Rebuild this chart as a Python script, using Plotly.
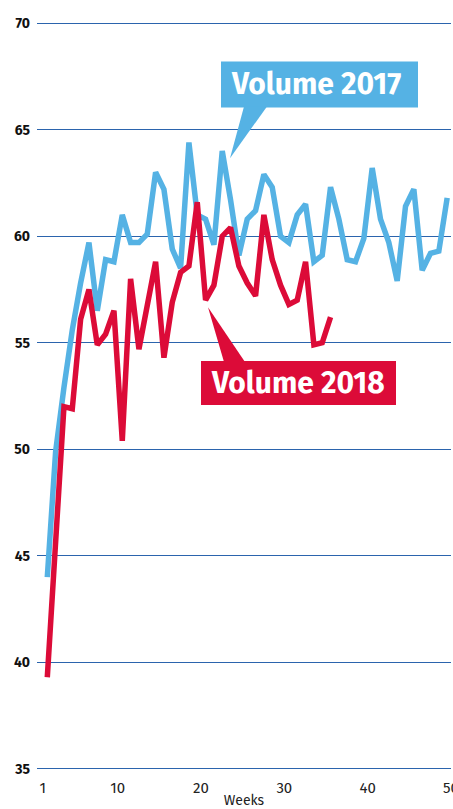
import plotly.graph_objects as go

# ---- data ----
weeks_2017 = list(range(1, 50))
volume_2017 = [44.0, 49.9, 52.9, 55.6, 57.8, 59.7, 56.5, 58.9, 58.8, 61.0,
               59.7, 59.7, 60.1, 63.0, 62.2, 59.4, 58.5, 64.4, 61.0, 60.8,
               59.6, 64.0, 61.7, 59.1, 60.8, 61.2, 62.9, 62.3, 60.0, 59.7,
               61.0, 61.5, 58.8, 59.1, 62.3, 60.8, 58.9, 58.8, 59.9, 63.2,
               60.8, 59.7, 57.9, 61.4, 62.2, 58.4, 59.2, 59.3, 61.8]
weeks_2018 = list(range(1, 36))
volume_2018 = [39.3, 45.6, 52.0, 51.9, 56.1, 57.5, 54.9, 55.4, 56.5, 50.4,
               58.0, 54.7, 56.8, 58.8, 54.3, 56.9, 58.3, 58.6, 61.6, 57.0,
               57.7, 60.0, 60.4, 58.6, 57.8, 57.2, 61.0, 58.9, 57.7, 56.8,
               57.0, 58.8, 54.9, 55.0, 56.2]
x_tick_labels = ["1", "10", "20", "30", "40", "50"]
y_ticks = [35, 40, 45, 50, 55, 60, 65, 70]
label_2017 = "Volume 2017"
label_2018 = "Volume 2018"

BLUE = "#55b2e4"
RED = "#dc0b38"
GRID = "#2b64ad"
FONT = "Fira Sans, Roboto, Open Sans, sans-serif"

W, H = 453, 809
ML, MR, MT, MB = 37, 2, 20.5, 37.6
X_RANGE = [-0.236, 49.46]
Y_RANGE = [34.9, 70.1]
TICK_OFFSET = 0.55

pw = W - ML - MR
ph = H - MT - MB


def px2x(px):
    return X_RANGE[0] + (px - ML) / pw * (X_RANGE[1] - X_RANGE[0])


def py2y(py):
    return Y_RANGE[1] - (py - MT) / ph * (Y_RANGE[1] - Y_RANGE[0])


fig = go.Figure()
fig.add_trace(go.Scatter(x=weeks_2017, y=volume_2017, mode="lines",
                         line=dict(color=BLUE, width=5.5), name=label_2017,
                         showlegend=False, hoverinfo="skip"))
fig.add_trace(go.Scatter(x=weeks_2018, y=volume_2018, mode="lines",
                         line=dict(color=RED, width=5.5), name=label_2018,
                         showlegend=False, hoverinfo="skip"))


def callout(box, tri, color, text, tx, ty):
    x0, y0, x1, y1 = box
    fig.add_shape(type="rect", x0=px2x(x0), x1=px2x(x1), y0=py2y(y1), y1=py2y(y0),
                  fillcolor=color, line=dict(width=0), layer="above")
    path = "M {} {} L {} {} L {} {} Z".format(
        px2x(tri[0][0]), py2y(tri[0][1]), px2x(tri[1][0]), py2y(tri[1][1]),
        px2x(tri[2][0]), py2y(tri[2][1]))
    fig.add_shape(type="path", path=path, fillcolor=color, line=dict(width=0), layer="above")
    fig.add_annotation(x=px2x(tx), y=py2y(ty), text=text, showarrow=False,
                       font=dict(family=FONT, size=30, color="white", weight="bold"),
                       xanchor="center", yanchor="middle")


callout((221, 61, 418, 107), [(244, 106), (267, 106), (230, 158)], BLUE, label_2017, 316, 84)
callout((201, 361, 396, 405), [(224, 362), (245, 362), (208, 307)], RED, label_2018, 298, 383)

fig.update_layout(
    width=W, height=H,
    margin=dict(l=ML, r=MR, t=MT, b=MB),
    paper_bgcolor="white", plot_bgcolor="white",
    font=dict(family=FONT),
    xaxis=dict(range=X_RANGE, showgrid=False, zeroline=False, showline=False,
               automargin=False, ticklabeloverflow="allow",
               tickmode="array",
               tickvals=[int(t) - TICK_OFFSET for t in x_tick_labels],
               ticktext=x_tick_labels, ticklabelstandoff=6,
               tickfont=dict(size=15, color="#222"), ticks="",
               title=dict(text="Weeks", font=dict(size=14, color="#222"), standoff=2)),
    yaxis=dict(range=Y_RANGE, tickmode="array", tickvals=y_ticks,
               automargin=False,
               showgrid=True, gridcolor=GRID, gridwidth=1.3, zeroline=False,
               showline=False, ticks="", ticklabelstandoff=6,
               tickfont=dict(size=14, color="#111", weight="bold")),
)

fig.write_html("out.html", config={"displayModeBar": False},
               post_script="document.body.style.margin='0px';document.body.style.overflow='hidden';")
